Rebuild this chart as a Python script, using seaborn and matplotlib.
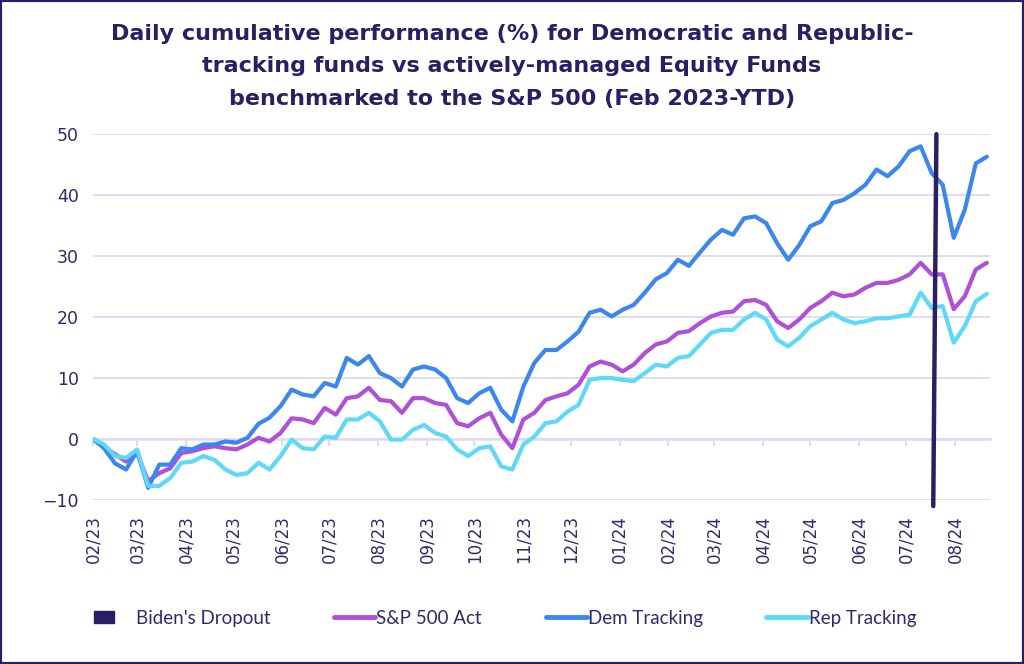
import pandas as pd
import seaborn as sns
import matplotlib.pyplot as plt
import matplotlib.dates as mdates
from matplotlib.lines import Line2D
from matplotlib.patches import Patch, Rectangle
from matplotlib.legend_handler import HandlerPatch

# weekly readings, Feb 2023 -> Aug 2024
dates = pd.date_range("2023-02-01", periods=82, freq="7D")

dem = [0, -1.5, -4, -5, -2, -8, -4.2, -4.2, -1.5, -1.7,
       -0.9, -0.9, -0.4, -0.6, 0.2, 2.5, 3.5, 5.4, 8.1, 7.3,
       7, 9.2, 8.6, 13.3, 12.2, 13.6, 10.8, 10, 8.6, 11.4,
       11.9, 11.4, 10, 6.7, 5.9, 7.5, 8.4, 4.8, 2.9, 8.6,
       12.5, 14.6, 14.6, 16, 17.6, 20.7, 21.2, 20.1, 21.2, 22.0,
       24, 26.2, 27.2, 29.4, 28.4, 30.6, 32.7, 34.3, 33.5, 36.2,
       36.5, 35.4, 32.1, 29.4, 31.8, 34.9, 35.7, 38.7, 39.2, 40.3,
       41.7, 44.2, 43.1, 44.7, 47.2, 48.0, 43.6, 41.7, 33.0, 37.6,
       45.2, 46.3]

sp500 = [0, -1.3, -2.5, -3.7, -2.3, -6.9, -5.6, -4.8, -2.3, -2.0,
         -1.5, -1.2, -1.5, -1.7, -0.9, 0.2, -0.4, 1.0, 3.4, 3.2,
         2.6, 5.1, 4.0, 6.7, 7.0, 8.4, 6.4, 6.2, 4.3, 6.7,
         6.7, 5.9, 5.6, 2.6, 2.1, 3.4, 4.3, 0.7, -1.5, 3.2,
         4.3, 6.4, 7.0, 7.5, 8.9, 11.9, 12.7, 12.2, 11.1, 12.2,
         14.1, 15.5, 16.0, 17.4, 17.7, 19.0, 20.1, 20.7, 20.9, 22.6,
         22.8, 22.0, 19.3, 18.2, 19.6, 21.5, 22.6, 24.0, 23.4, 23.7,
         24.8, 25.6, 25.6, 26.1, 27.0, 28.9, 27.0, 27.0, 21.3, 23.4,
         27.8, 28.9]

rep = [0, -0.9, -2.8, -3.1, -1.7, -7.7, -7.7, -6.4, -3.9, -3.7,
       -2.8, -3.4, -5.0, -5.9, -5.6, -3.9, -5.0, -2.8, -0.1, -1.5,
       -1.7, 0.4, 0.2, 3.2, 3.2, 4.3, 2.9, -0.1, -0.1, 1.5,
       2.3, 1.0, 0.4, -1.7, -2.8, -1.5, -1.2, -4.5, -5.0, -0.9,
       0.4, 2.6, 2.9, 4.5, 5.6, 9.7, 10.0, 10.0, 9.7, 9.5,
       10.8, 12.2, 11.9, 13.3, 13.6, 15.5, 17.4, 17.9, 17.9, 19.6,
       20.7, 19.6, 16.3, 15.2, 16.6, 18.5, 19.6, 20.7, 19.6, 19.0,
       19.3, 19.8, 19.8, 20.1, 20.4, 24.0, 21.5, 21.8, 15.8, 18.5,
       22.6, 23.8]

dropout_dates = pd.to_datetime(["2024-07-18", "2024-07-20"])
dropout_vals = [-11, 50]

series_names = ["S&P 500 Act", "Dem Tracking", "Rep Tracking"]
colors = {"S&P 500 Act": "#b04fd8", "Dem Tracking": "#3b87ef", "Rep Tracking": "#5ed9f7"}
navy = "#2a1f66"
text_col = "#2e2a6e"
grid_col = "#dedaf3"

df = pd.DataFrame({"date": dates, "S&P 500 Act": sp500, "Dem Tracking": dem, "Rep Tracking": rep})
long = df.melt(id_vars="date", var_name="series", value_name="value")

sns.set_style("white")
plt.rcParams["font.family"] = ["DejaVu Sans"]

fig = plt.figure(figsize=(10.24, 6.64), dpi=100)
ax = fig.add_axes([0.0908, 0.247, 0.876, 0.551])
ax.patch.set_visible(False)

sns.lineplot(data=long, x="date", y="value", hue="series", hue_order=series_names,
             palette=colors, lw=3, legend=False, ax=ax,
             solid_capstyle="round", solid_joinstyle="round")
ax.plot(dropout_dates, dropout_vals, color=navy, lw=3.2, clip_on=False, zorder=5)

ax.set_xlim(pd.Timestamp("2023-02-01"), pd.Timestamp("2024-08-23"))
ax.set_ylim(-10, 50)
ax.set_yticks(range(-10, 51, 10))
ax.yaxis.grid(True, color=grid_col, lw=1.4)
ax.set_axisbelow(True)
for s in ax.spines.values():
    s.set_visible(False)
ax.set_xlabel("")
ax.set_ylabel("")

ax.xaxis.set_major_locator(mdates.MonthLocator())
ax.xaxis.set_major_formatter(mdates.DateFormatter("%m/%y"))
ax.tick_params(axis="x", length=0, pad=11, labelsize=12, labelcolor=text_col, labelrotation=90)
ax.tick_params(axis="y", length=0, pad=10, labelsize=12.5, labelcolor=text_col)

# zero line with month ticks
ax0 = ax.twiny()
ax0.set_xlim(ax.get_xlim())
ax0.xaxis.set_ticks_position("bottom")
ax0.spines["bottom"].set_position(("data", 0))
for k in ["top", "left", "right"]:
    ax0.spines[k].set_visible(False)
ax0.spines["bottom"].set_color(grid_col)
ax0.spines["bottom"].set_linewidth(1.8)
ax0.xaxis.set_major_locator(mdates.MonthLocator())
ax0.tick_params(axis="x", direction="out", length=5, width=1.5, color=grid_col, labelbottom=False)
ax0.set_zorder(ax.get_zorder() - 1)

fig.text(0.5, 0.9,
         "Daily cumulative performance (%) for Democratic and Republic-\n"
         "tracking funds vs actively-managed Equity Funds\n"
         "benchmarked to the S&P 500 (Feb 2023-YTD)",
         ha="center", va="center", fontsize=16, fontweight="bold",
         color=navy, linespacing=1.8)


def small_box(legend, orig_handle, xdescent, ydescent, width, height, fontsize):
    return Rectangle((-xdescent, -ydescent + height * 0.05), width * 0.5, height * 0.9,
                     facecolor=navy, edgecolor=navy)


handles = [Patch(facecolor=navy, edgecolor=navy, label="Biden's Dropout")]
for name in series_names:
    handles.append(Line2D([0], [0], color=colors[name], lw=3.5, solid_capstyle="round", label=name))
fig.legend(handles=handles, loc="center left", bbox_to_anchor=(0.075, 0.069), ncol=4,
           frameon=False, handlelength=2.2, handletextpad=0.05, columnspacing=3.4,
           prop={"family": "Lato", "size": 13.5}, labelcolor=text_col,
           handler_map={Patch: HandlerPatch(patch_func=small_box)})

fig.patches.append(Rectangle((0, 0), 1, 1, transform=fig.transFigure, fill=False,
                             edgecolor=navy, lw=3, zorder=10))

fig.savefig("out.png", dpi=100)
